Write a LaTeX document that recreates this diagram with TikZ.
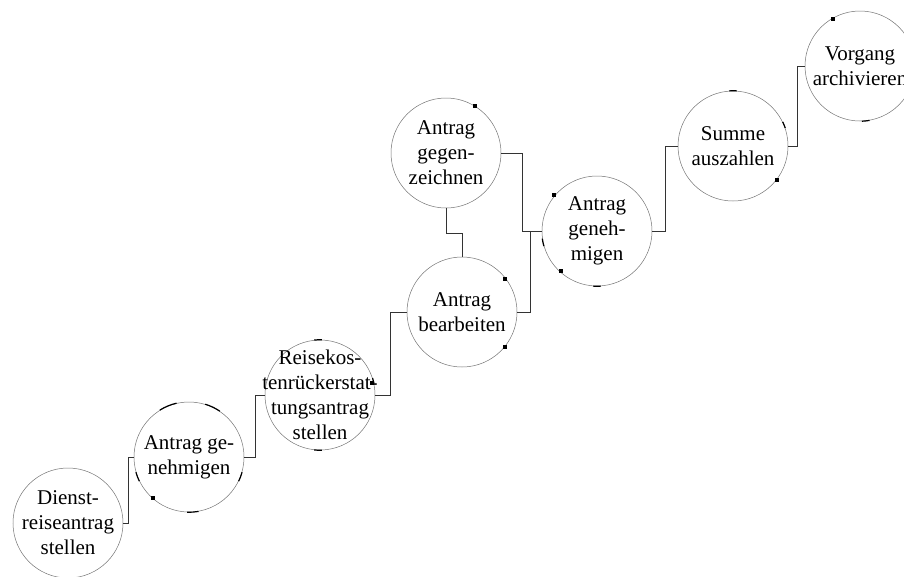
\documentclass[tikz,border=0pt]{standalone}
\usepackage{fontspec}
\setmainfont{Liberation Serif}
\begin{document}
\begin{tikzpicture}[x=1pt,y=-1pt,
  task/.style={circle, draw=black!55, line width=0.5pt, minimum size=110pt,
    inner sep=0pt},
  caption/.style={inner sep=0pt, align=center,
    font=\fontsize{21}{25}\selectfont},
  link/.style={draw=black!80, line width=0.9pt},
  tick/.style={draw=black, line width=1.2pt}]
\useasboundingbox (0,0) rectangle (904,576);

% process steps: outlines
\node[task] (c1) at (68,523)  {};
\node[task] (c2) at (189,457) {};
\node[task] (c3) at (320,395) {};
\node[task] (c4) at (462,312) {};
\node[task] (c5) at (446,153) {};
\node[task] (c6) at (597,231) {};
\node[task] (c7) at (733,146) {};
\node[task] (c8) at (860,66)  {};

% process steps: names
\node[caption] (t1) at (c1) {Dienst-\\reiseantrag\\stellen};
\node[caption] (t2) at (c2) {Antrag ge-\\nehmigen};
\node[caption] (t3) at (c3) {Reisekos-\\tenrückerstat-\\tungsantrag\\stellen};
\node[caption] (t4) at (c4) {Antrag\\bearbeiten};
\node[caption] (t5) at (c5) {Antrag\\gegen-\\zeichnen};
\node[caption] (t6) at (c6) {Antrag\\geneh-\\migen};
\node[caption] (t7) at (c7) {Summe\\auszahlen};
\node[caption] (t8) at (c8) {Vorgang\\archivieren};

% orthogonal connectors
\draw[link] (c1.east) -- ++(5,0)  |- (c2.west);
\draw[link] (c2.east) -- ++(11,0) |- (c3.west);
\draw[link] (c3.east) -- ++(15,0) |- (c4.west);
\draw[link] (c4.east) -- ++(13,0) |- (c6.west);
\draw[link] (c5.east) -- ++(21,0) |- (c6.west);
\draw[link] (c5.south) -- ++(0,25) -| (c4.north);
\draw[link] (c6.east) -- ++(13,0) |- (c7.west);
\draw[link] (c7.east) -- ++(9,0)  |- (c8.west);

% darker stroke fragments on the outlines
\draw[tick] (c2.103) arc[start angle=103, end angle=122, radius=55pt];
\draw[tick] (c2.56)  arc[start angle=56,  end angle=73,  radius=55pt];
\draw[tick] (c2.268) arc[start angle=268, end angle=280, radius=55pt];
\draw[tick] (c2.196) arc[start angle=196, end angle=206, radius=55pt];
\draw[tick] (c2.334) arc[start angle=334, end angle=344, radius=55pt];
\draw[tick] (c3.88)  arc[start angle=88,  end angle=96,  radius=55pt];
\draw[tick] (c3.264) arc[start angle=264, end angle=272, radius=55pt];
\draw[tick] (c3.12)  arc[start angle=12,  end angle=18,  radius=55pt];
\draw[tick] (c6.266) arc[start angle=266, end angle=274, radius=55pt];
\draw[tick] (c6.188) arc[start angle=188, end angle=196, radius=55pt];
\draw[tick] (c7.86)  arc[start angle=86,  end angle=94,  radius=55pt];
\draw[tick] (c7.19)  arc[start angle=19,  end angle=26,  radius=55pt];
\draw[tick] (c8.272) arc[start angle=272, end angle=280, radius=55pt];

% small square handles
\foreach \hx/\hy in {153/498, 372/383, 475/106, 505/279, 505/347,
                     554/195, 561/271, 777/180, 833/19}
  \fill[black] (\hx,\hy) ++(-1.6,-1.6) rectangle ++(3.2,3.2);
\end{tikzpicture}
\end{document}
